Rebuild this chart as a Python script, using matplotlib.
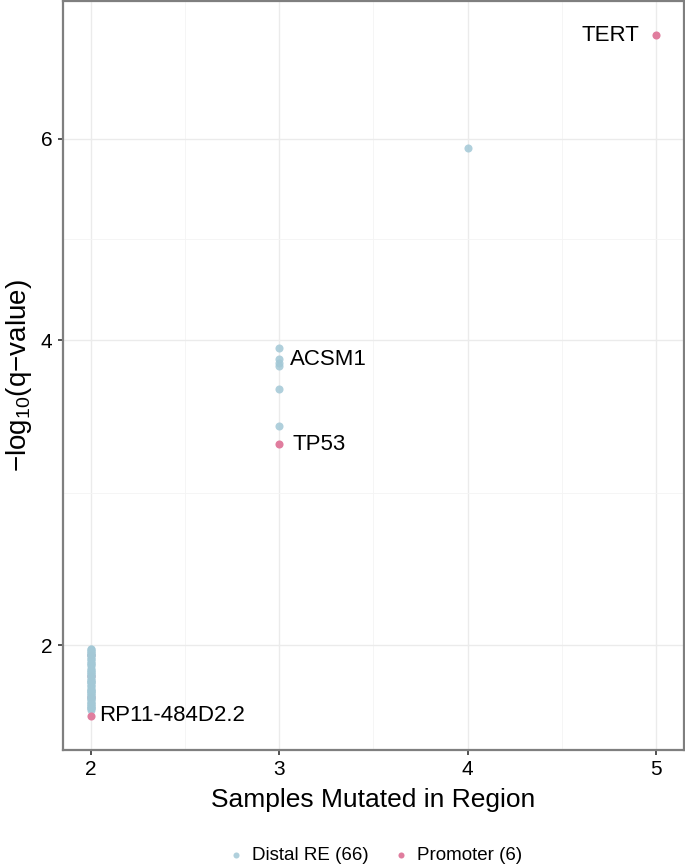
import numpy as np
import matplotlib
matplotlib.use("Agg")
import matplotlib.pyplot as plt

plt.rcParams['font.family'] = ['Liberation Sans', 'DejaVu Sans']
plt.rcParams['mathtext.default'] = 'regular'

# ---- data ----
distal_x2 = [1.98, 1.98, 1.97, 1.97, 1.96, 1.96, 1.95, 1.95, 1.94, 1.93,
             1.93, 1.92, 1.91, 1.91, 1.90, 1.89, 1.88, 1.88, 1.87, 1.87,
             1.86, 1.85, 1.85, 1.84, 1.83, 1.83, 1.82, 1.82, 1.81, 1.80,
             1.80, 1.79, 1.79, 1.78, 1.78, 1.77, 1.77, 1.76, 1.76, 1.75,
             1.75, 1.74, 1.74, 1.73, 1.73, 1.72, 1.72, 1.71, 1.71, 1.70,
             1.70, 1.70, 1.69, 1.90, 1.86, 1.82, 1.78, 1.74, 1.95]
distal_x3 = [3.93, 3.84, 3.81, 3.79, 3.61, 3.33]
distal_x4 = [5.90]
distal_samples = [2] * len(distal_x2) + [3] * len(distal_x3) + [4] * len(distal_x4)
distal_q = distal_x2 + distal_x3 + distal_x4

promoter_samples = [2, 2, 2, 2, 3, 5]
promoter_q = [1.95, 1.85, 1.75, 1.665, 3.20, 7.33]
promoter_names = ["", "", "", "RP11-484D2.2", "TP53", "TERT"]

labels = [("TERT", 5, 7.33, -16, 'right'),
          ("ACSM1", 3, 3.84, 11, 'left'),
          ("TP53", 3, 3.20, 13, 'left'),
          ("RP11-484D2.2", 2, 1.665, 8, 'left')]

x_ticks = [2, 3, 4, 5]
y_ticks = [2, 4, 6]
y_minor = [np.expm1((np.log1p(2) + np.log1p(4)) / 2), np.expm1((np.log1p(4) + np.log1p(6)) / 2)]

blue = "#a3c8d6"
pink = "#e07d9e"

fig = plt.figure(figsize=(6.85, 8.67), dpi=100)
ax = fig.add_axes([63/685, 1 - 750/867, (684-63)/685, (750-1)/867])
ax.set_yscale('function', functions=(np.log1p, np.expm1))

ax.scatter(promoter_samples[:3], promoter_q[:3], s=34, color=pink, linewidths=0, zorder=3)
ax.scatter(distal_samples, distal_q, s=34, color=blue, alpha=0.85, linewidths=0, zorder=4,
           label="Distal RE (66)")
ax.scatter(promoter_samples[3:], promoter_q[3:], s=34, color=pink, linewidths=0, zorder=5,
           label="Promoter (6)")

for name, x, y, dx, ha in labels:
    ax.annotate(name, (x, y), xytext=(dx * 0.72, 0), textcoords='offset points',
                ha=ha, va='center', fontsize=16, color='black', zorder=6)

# limits with ggplot-like 5% expansion
xmin, xmax = 2, 5
xr = xmax - xmin
ax.set_xlim(xmin - 0.05 * xr, xmax + 0.05 * xr)
allq = np.log1p(np.array(distal_q + promoter_q))
lo, hi = allq.min(), allq.max()
yr = hi - lo
ax.set_ylim(np.expm1(lo - 0.05 * yr), np.expm1(hi + 0.05 * yr))

ax.set_xticks(x_ticks)
ax.set_xticks([2.5, 3.5, 4.5], minor=True)
ax.set_yticks(y_ticks)
ax.set_yticks(y_minor, minor=True)
ax.set_yticklabels([str(t) for t in y_ticks])
ax.yaxis.set_minor_formatter(matplotlib.ticker.NullFormatter())

ax.grid(True, which='major', color='#ebebeb', linewidth=1.0, zorder=0)
ax.grid(True, which='minor', color='#f4f4f4', linewidth=0.6, zorder=0)
ax.set_axisbelow(True)

ax.tick_params(which='major', length=3.5, width=1.2, color='#333333', labelsize=15,
               labelcolor='black', pad=4)
ax.tick_params(which='minor', length=0)
for s in ax.spines.values():
    s.set_color('#7f7f7f')
    s.set_linewidth(1.6)

ax.set_xlabel("Samples Mutated in Region", fontsize=19, labelpad=6)
ax.set_ylabel("$-$log$_{10}$(q$-$value)", fontsize=20, labelpad=5)

h, l = ax.get_legend_handles_labels()
leg = fig.legend(h, l, loc='center', bbox_to_anchor=(372/685, 1 - 855/867), ncol=2,
                 frameon=False, fontsize=13.5, markerscale=0.75, handletextpad=0.1,
                 columnspacing=1.0, borderaxespad=0, handlelength=1.5)

fig.savefig("out.png", dpi=100)
